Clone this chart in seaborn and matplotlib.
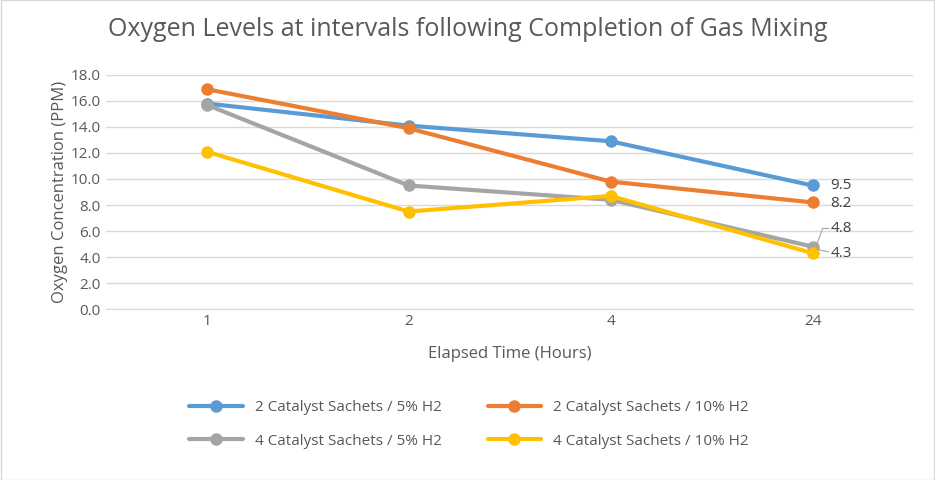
import matplotlib
matplotlib.use("Agg")
import matplotlib.pyplot as plt
import seaborn as sns
import pandas as pd

hours = ["1", "2", "4", "24"]
series_names = ["2 Catalyst Sachets / 5% H2", "2 Catalyst Sachets / 10% H2",
                "4 Catalyst Sachets / 5% H2", "4 Catalyst Sachets / 10% H2"]
s1 = [15.8, 14.1, 12.9, 9.5]
s2 = [16.9, 13.9, 9.8, 8.2]
s3 = [15.7, 9.5, 8.4, 4.8]
s4 = [12.1, 7.5, 8.7, 4.3]
colors = ["#5B9BD5", "#ED7D31", "#A5A5A5", "#FFC000"]

rows = []
for name, vals in zip(series_names, [s1, s2, s3, s4]):
    for h, v in zip(hours, vals):
        rows.append({"Elapsed": h, "Oxygen": v, "Series": name})
df = pd.DataFrame(rows)

sns.set_style("white")
plt.rcParams['font.family'] = ['Open Sans', 'DejaVu Sans']

fig = plt.figure(figsize=(9.35, 4.8), dpi=100)
ax = fig.add_axes([0.113, 0.356, 0.864, 0.488])
sns.lineplot(data=df, x="Elapsed", y="Oxygen", hue="Series", palette=colors,
             marker="o", markersize=9, markeredgewidth=0, linewidth=3, ax=ax, sort=False)
ax.set_xlim(-0.5, 3.5)
ax.set_ylim(0, 18)
ax.set_yticks([i * 2 for i in range(10)])
ax.set_yticklabels([f"{i * 2:.1f}" for i in range(10)])
ax.yaxis.grid(True, color="#D9D9D9", linewidth=1)
for s in ["left", "right", "top"]:
    ax.spines[s].set_visible(False)
ax.spines["bottom"].set_color("#D9D9D9")
ax.tick_params(axis="both", length=0, labelsize=11, colors="#595959")
ax.set_xlabel("Elapsed Time (Hours)", fontsize=12, color="#595959", labelpad=12)
ax.set_ylabel("Oxygen Concentration (PPM)", fontsize=12, color="#595959", labelpad=2)

label_y = [9.5, 8.1, 6.2, 4.3]
for vals, ly in zip([s1, s2, s3, s4], label_y):
    ax.annotate(f"{vals[-1]:.1f}", xy=(3, vals[-1]), xytext=(3.09, ly),
                va="center", fontsize=11, color="#404040")
ax.plot([3.02, 3.05, 3.08], [4.9, 6.2, 6.2], color="#A5A5A5", linewidth=0.8)
ax.plot([3.02, 3.08], [4.6, 4.4], color="#A5A5A5", linewidth=0.8)

fig.text(0.5, 0.925, "Oxygen Levels at intervals following Completion of Gas Mixing",
         ha="center", fontsize=18, color="#595959")
handles, labels = ax.get_legend_handles_labels()
order = [0, 2, 1, 3]
ax.legend([handles[i] for i in order], [labels[i] for i in order],
          loc="upper center", bbox_to_anchor=(0.45, -0.33), ncol=2,
          frameon=False, fontsize=11, handlelength=3.5, columnspacing=3, labelspacing=1.2,
          labelcolor="#595959")
fig.patches.append(plt.Rectangle((0.001, 0.001), 0.998, 0.998, transform=fig.transFigure,
                                 fill=False, edgecolor="#D9D9D9", linewidth=1))
fig.savefig("out.png", dpi=100)
